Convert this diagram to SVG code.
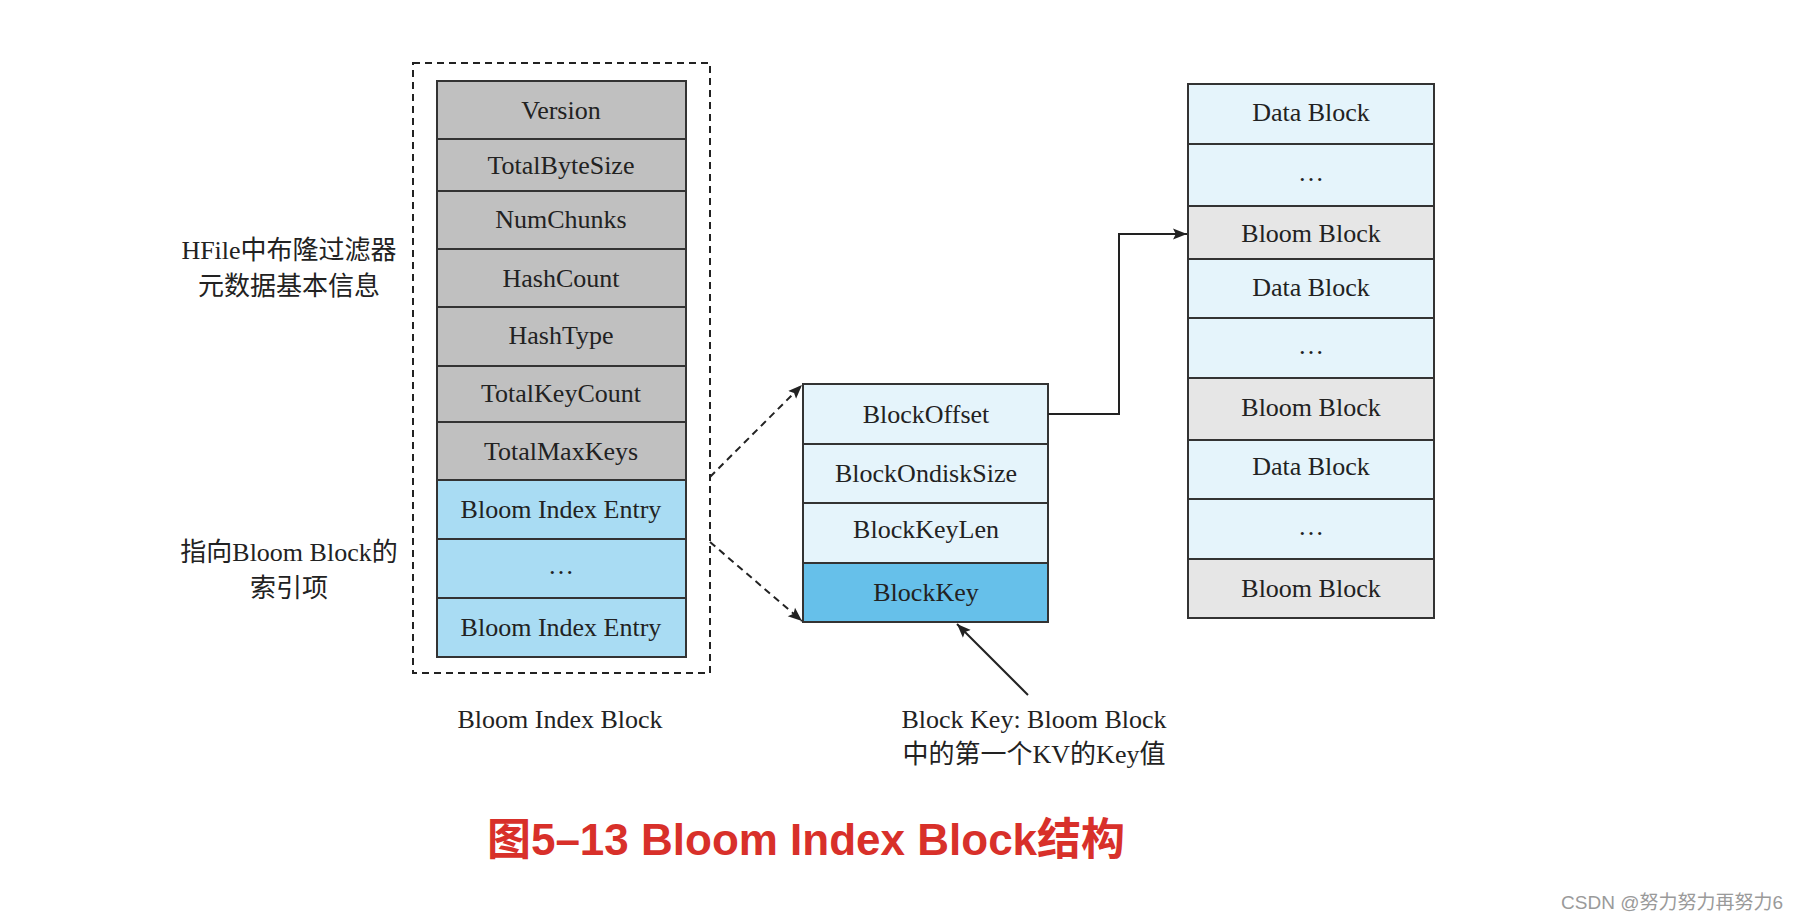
<svg xmlns="http://www.w3.org/2000/svg" width="1800" height="920" viewBox="0 0 1800 920">
<style>
.cell{stroke:#333;stroke-width:2}
.g{fill:#c0c0c0}
.e{fill:#a9dcf3}
.l{fill:#e5f4fb}
.k{fill:#66c0ea}
.b{fill:#e6e6e6}
.t{font-family:"Liberation Serif","Times New Roman",serif;font-size:26px;fill:#222;text-anchor:middle}
.c{font-family:"Liberation Serif","Noto Sans CJK SC",serif;font-size:26px;fill:#222;text-anchor:middle}
.conn{fill:none;stroke:#222;stroke-width:2}
.dash{fill:none;stroke:#222;stroke-width:2;stroke-dasharray:7 5}
</style>
<defs>
<marker id="ah" viewBox="0 0 10 10" refX="10" refY="5" markerWidth="7" markerHeight="7" markerUnits="userSpaceOnUse" orient="auto">
<path d="M0,1 L10,5 L0,9 L2,5 Z" fill="#222"/>
</marker>
<marker id="ah2" viewBox="0 0 10 10" refX="10" refY="5" markerWidth="14" markerHeight="14" markerUnits="userSpaceOnUse" orient="auto">
<path d="M0,1 L10,5 L0,9 L2,5 Z" fill="#222"/>
</marker>
</defs>
<rect width="1800" height="920" fill="#fff"/>

<g id="bloom-index-block">
<rect x="413" y="63" width="297" height="610" class="dash"/>
<rect class="cell g" x="437" y="81" width="249" height="58"/>
<rect class="cell g" x="437" y="139" width="249" height="52"/>
<rect class="cell g" x="437" y="191" width="249" height="58"/>
<rect class="cell g" x="437" y="249" width="249" height="58"/>
<rect class="cell g" x="437" y="307" width="249" height="59"/>
<rect class="cell g" x="437" y="366" width="249" height="56"/>
<rect class="cell g" x="437" y="422" width="249" height="58"/>
<rect class="cell e" x="437" y="480" width="249" height="59"/>
<rect class="cell e" x="437" y="539" width="249" height="59"/>
<rect class="cell e" x="437" y="598" width="249" height="59"/>
<text class="t" x="561" y="119">Version</text>
<text class="t" x="561" y="174">TotalByteSize</text>
<text class="t" x="561" y="228">NumChunks</text>
<text class="t" x="561" y="287">HashCount</text>
<text class="t" x="561" y="344">HashType</text>
<text class="t" x="561" y="402">TotalKeyCount</text>
<text class="t" x="561" y="460">TotalMaxKeys</text>
<text class="t" x="561" y="518">Bloom Index Entry</text>
<text class="t" x="561" y="574">…</text>
<text class="t" x="561" y="636">Bloom Index Entry</text>
<text class="t" x="560" y="728">Bloom Index Block</text>
</g>

<g id="left-labels">
<text class="c" x="289" y="259">HFile中布隆过滤器</text>
<text class="c" x="289" y="295">元数据基本信息</text>
<text class="c" x="289" y="561">指向Bloom Block的</text>
<text class="c" x="289" y="597">索引项</text>
</g>

<g id="bloom-index-entry">
<rect class="cell l" x="803" y="384" width="245" height="60"/>
<rect class="cell l" x="803" y="444" width="245" height="59"/>
<rect class="cell l" x="803" y="503" width="245" height="60"/>
<rect class="cell k" x="803" y="563" width="245" height="59"/>
<text class="t" x="926" y="423">BlockOffset</text>
<text class="t" x="926" y="482">BlockOndiskSize</text>
<text class="t" x="926" y="538">BlockKeyLen</text>
<text class="t" x="926" y="601">BlockKey</text>
</g>

<g id="blockkey-note">
<text class="c" x="1034" y="728">Block Key: Bloom Block</text>
<text class="c" x="1034" y="763">中的第一个KV的Key值</text>
</g>

<g id="hfile-blocks">
<rect class="cell l" x="1188" y="84" width="246" height="60"/>
<rect class="cell l" x="1188" y="144" width="246" height="62"/>
<rect class="cell b" x="1188" y="206" width="246" height="53"/>
<rect class="cell l" x="1188" y="259" width="246" height="59"/>
<rect class="cell l" x="1188" y="318" width="246" height="60"/>
<rect class="cell b" x="1188" y="378" width="246" height="62"/>
<rect class="cell l" x="1188" y="440" width="246" height="59"/>
<rect class="cell l" x="1188" y="499" width="246" height="60"/>
<rect class="cell b" x="1188" y="559" width="246" height="59"/>
<text class="t" x="1311" y="121">Data Block</text>
<text class="t" x="1311" y="181">…</text>
<text class="t" x="1311" y="242">Bloom Block</text>
<text class="t" x="1311" y="296">Data Block</text>
<text class="t" x="1311" y="354">…</text>
<text class="t" x="1311" y="416">Bloom Block</text>
<text class="t" x="1311" y="475">Data Block</text>
<text class="t" x="1311" y="535">…</text>
<text class="t" x="1311" y="597">Bloom Block</text>
</g>

<g id="connectors">
<line class="dash" x1="710" y1="477" x2="802" y2="385" marker-end="url(#ah2)"/>
<line class="dash" x1="710" y1="542" x2="802" y2="621" marker-end="url(#ah2)"/>
<polyline class="conn" points="1048,414 1119,414 1119,234 1187,234" marker-end="url(#ah2)"/>
<line class="conn" x1="1028" y1="695" x2="957" y2="624" marker-end="url(#ah2)"/>
</g>

<g id="caption">
<text x="806" y="855" font-family="'Liberation Sans','Noto Sans CJK SC',sans-serif" font-size="44" font-weight="bold" fill="#d8302a" text-anchor="middle">图5–13 Bloom Index Block结构</text>
<text x="1783" y="909" font-family="'Liberation Sans','Noto Sans CJK SC',sans-serif" font-size="19" fill="#9a9a9a" text-anchor="end">CSDN @努力努力再努力6</text>
</g>
</svg>
